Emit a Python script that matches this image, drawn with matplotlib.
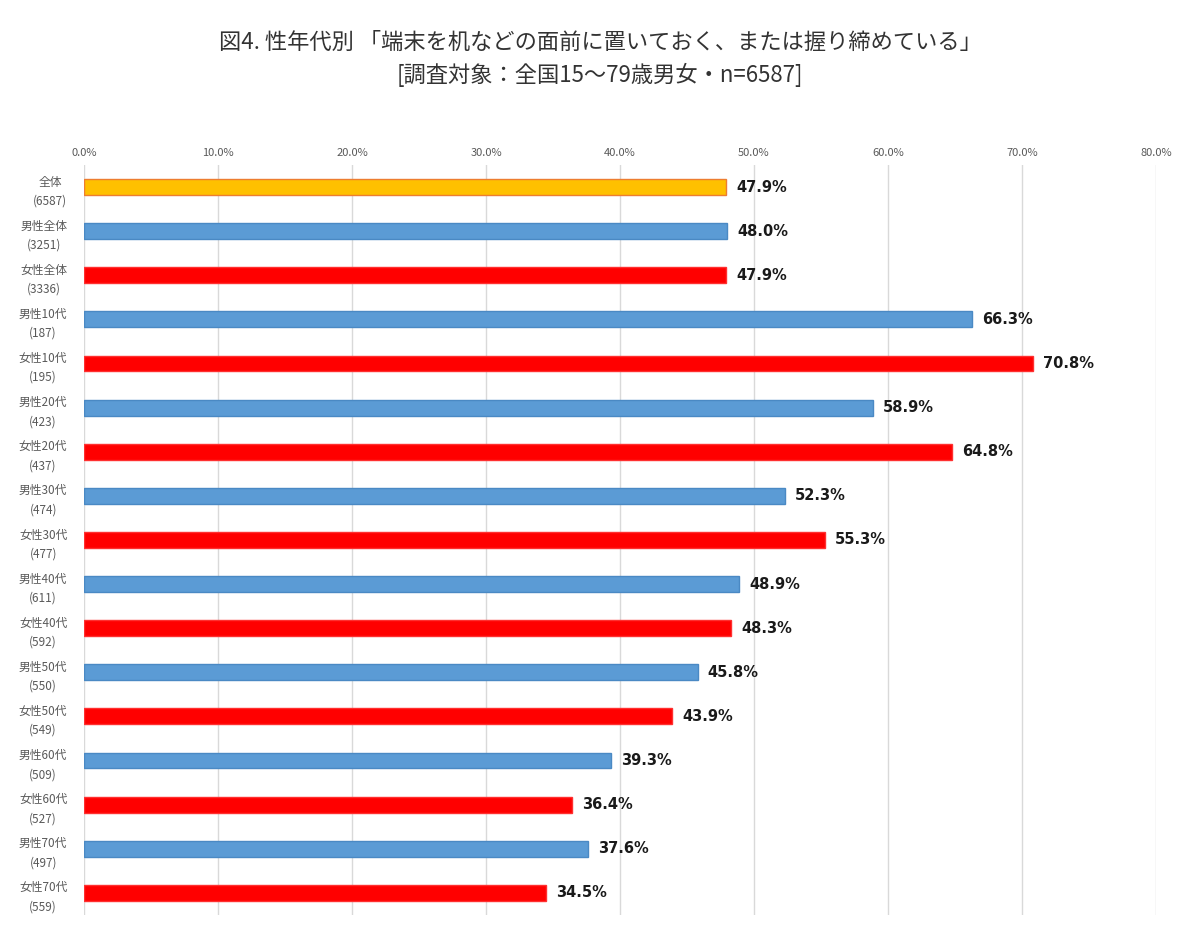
import numpy as np
import matplotlib.pyplot as plt

plt.rcParams['font.family'] = ['Noto Sans CJK JP', 'DejaVu Sans']

groups = ['全体', '男性全体', '女性全体',
          '男性10代', '女性10代', '男性20代', '女性20代',
          '男性30代', '女性30代', '男性40代', '女性40代',
          '男性50代', '女性50代', '男性60代', '女性60代',
          '男性70代', '女性70代']
counts = [6587, 3251, 3336, 187, 195, 423, 437, 474, 477,
          611, 592, 550, 549, 509, 527, 497, 559]
values = [47.9, 48.0, 47.9, 66.3, 70.8, 58.9, 64.8, 52.3, 55.3,
          48.9, 48.3, 45.8, 43.9, 39.3, 36.4, 37.6, 34.5]

orange, blue, red = '#FFC000', '#5B9BD5', '#FF0000'
colors = [orange] + [blue if g.startswith('男') else red for g in groups[1:]]
edges = ['#ED7D31'] + [('#4A89C4' if c == blue else '#FF3030') for c in colors[1:]]

fig = plt.figure(figsize=(12, 9.39), dpi=100)
ax = fig.add_axes([0.07, 0.0256, 0.8933, 0.7987])

y = np.arange(len(groups))
ax.barh(y, values, height=0.36, color=colors, edgecolor=edges, linewidth=1, zorder=3)
for yi, v in zip(y, values):
    ax.text(v + 0.75, yi, f'{v:.1f}%', va='center', ha='left',
            fontsize=10.5, fontweight='bold', color='#1a1a1a', family='DejaVu Sans')

ax.set_xlim(0, 80)
ax.set_ylim(len(groups) - 0.5, -0.5)
ax.set_xticks(np.arange(0, 81, 10))
ax.set_xticklabels([f'{t:.1f}%' for t in range(0, 81, 10)], fontsize=8, color='#595959')
ax.xaxis.tick_top()
ax.tick_params(axis='x', length=0, pad=5)
ax.set_yticks(y)
ax.set_yticklabels([f'{g}\n({n})' for g, n in zip(groups, counts)],
                   fontsize=8.5, color='#595959', linespacing=1.6, multialignment='center')
ax.tick_params(axis='y', length=0, pad=12)
ax.grid(axis='x', color='#D9D9D9', linewidth=1, zorder=0)
for s in ax.spines.values():
    s.set_visible(False)

fig.text(0.5, 0.955, '図4. 性年代別 「端末を机などの面前に置いておく、または握り締めている」',
         ha='center', va='center', fontsize=16, color='#333333')
fig.text(0.5, 0.92, '[調査対象：全国15～79歳男女・n=6587]',
         ha='center', va='center', fontsize=16, color='#333333')

fig.savefig('out.png', dpi=100)
